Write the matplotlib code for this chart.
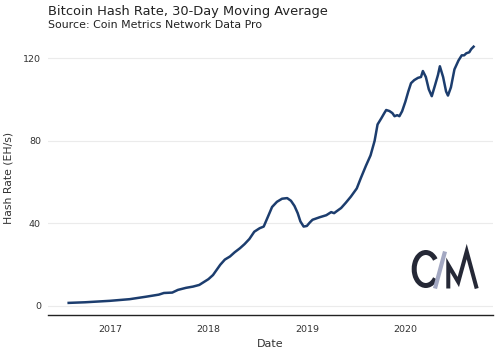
import pandas as pd
import matplotlib.pyplot as plt
import matplotlib.dates as mdates
from matplotlib.patches import Arc

# hash rate (EH/s), 30-day moving average
dates = ['2016-08-01', '2016-10-01', '2017-01-01', '2017-03-15', '2017-05-15',
         '2017-07-01', '2017-07-20', '2017-08-20', '2017-09-10', '2017-10-10',
         '2017-11-05', '2017-11-28', '2018-01-01', '2018-01-18', '2018-02-14',
         '2018-03-03', '2018-03-22', '2018-04-08', '2018-04-28', '2018-05-15',
         '2018-06-02', '2018-06-20', '2018-07-10', '2018-07-25', '2018-08-12',
         '2018-08-25', '2018-09-12', '2018-10-01', '2018-10-20', '2018-11-03',
         '2018-11-16', '2018-11-28', '2018-12-08', '2018-12-20', '2019-01-01',
         '2019-01-12', '2019-01-22', '2019-02-17', '2019-03-14', '2019-04-01',
         '2019-04-12', '2019-04-20', '2019-05-08', '2019-05-25', '2019-06-13',
         '2019-07-05', '2019-07-20', '2019-08-08', '2019-08-25', '2019-09-09',
         '2019-09-20', '2019-10-04', '2019-10-15', '2019-10-22', '2019-11-03',
         '2019-11-14', '2019-11-22', '2019-12-02', '2019-12-10', '2019-12-20',
         '2020-01-01', '2020-01-12', '2020-01-22', '2020-02-03', '2020-02-17',
         '2020-02-28', '2020-03-06', '2020-03-17', '2020-03-28', '2020-04-08',
         '2020-04-20', '2020-05-01', '2020-05-08', '2020-05-20', '2020-05-31',
         '2020-06-07', '2020-06-18', '2020-07-01', '2020-07-16', '2020-07-28',
         '2020-08-06', '2020-08-14', '2020-08-25', '2020-09-01', '2020-09-10']
hash_rate = [1.5, 1.8, 2.5, 3.3, 4.5,
             5.5, 6.3, 6.5, 7.8, 8.8,
             9.4, 10.2, 13, 15, 20,
             22.5, 24, 26, 28, 30,
             32.5, 36, 37.7, 38.5, 44,
             48, 50.5, 52, 52.3, 51,
             48.5, 45, 41, 38.5, 38.8,
             40.5, 41.8, 43, 44, 45.5,
             45, 45.8, 47.5, 50, 53,
             57, 62, 68, 73, 80,
             88, 91, 93.5, 95, 94.5,
             93.5, 92, 92.5, 92, 94.4,
             99, 104, 108, 109.5, 110.6,
             111, 113.9, 111, 105, 101.7,
             107, 112, 116.2, 111, 104,
             102, 106, 114.7, 119, 121.5,
             121.5, 122.5, 123, 124.5, 125.7]
y_ticks = [0, 40, 80, 120]

df = pd.DataFrame({'date': pd.to_datetime(dates), 'hash': hash_rate})

fig = plt.figure(figsize=(4.99, 3.56), dpi=100)
ax = fig.add_axes([0.096, 0.115, 0.892, 0.773])

ax.plot(df['date'], df['hash'], color='#1c3d6e', linewidth=1.8)

ax.set_xlim(pd.Timestamp('2016-05-16'), pd.Timestamp('2020-11-21'))
ax.set_ylim(-4.4, 129)
ax.set_yticks(y_ticks)
ax.xaxis.set_major_locator(mdates.YearLocator())
ax.xaxis.set_major_formatter(mdates.DateFormatter('%Y'))
ax.grid(axis='y', color='#ebebeb', linewidth=0.8)
ax.set_axisbelow(True)
for s in ['top', 'right', 'left']:
    ax.spines[s].set_visible(False)
ax.spines['bottom'].set_color('#222222')
ax.spines['bottom'].set_linewidth(1.0)
ax.tick_params(length=0, labelsize=6.8, colors='#333333')
ax.tick_params(axis='x', pad=7)
ax.tick_params(axis='y', pad=5)
ax.set_xlabel('Date', fontsize=8, color='#333333', labelpad=4)
ax.set_ylabel('Hash Rate (EH/s)', fontsize=7.8, color='#333333')
ax.yaxis.set_label_coords(-0.077, 0.5)

fig.text(48 / 499, 1 - 12 / 356, 'Bitcoin Hash Rate, 30-Day Moving Average',
         fontsize=9.4, color='#222222', va='center')
fig.text(48 / 499, 1 - 25 / 356, 'Source: Coin Metrics Network Data Pro',
         fontsize=7.9, color='#222222', va='center')

# Coin Metrics logo, drawn in pixel coordinates
lg = fig.add_axes([400 / 499, 1 - 300 / 356, 90 / 499, 60 / 356])
lg.set_xlim(400, 490)
lg.set_ylim(300, 240)
lg.axis('off')
lg.add_patch(Arc((425.8, 269), 23.2, 33, theta1=45, theta2=315,
                 color='#252836', linewidth=3.6))
lg.plot([445, 435], [251.5, 288.5], color='#a3a8c2', linewidth=3.0,
        solid_capstyle='butt')
lg.plot([448.3, 448.3, 458.3, 466.7, 476.7], [288.5, 265, 282, 251.5, 288.5],
        color='#252836', linewidth=2.9, solid_joinstyle='miter',
        solid_capstyle='butt')

fig.savefig('out.png', dpi=100)
